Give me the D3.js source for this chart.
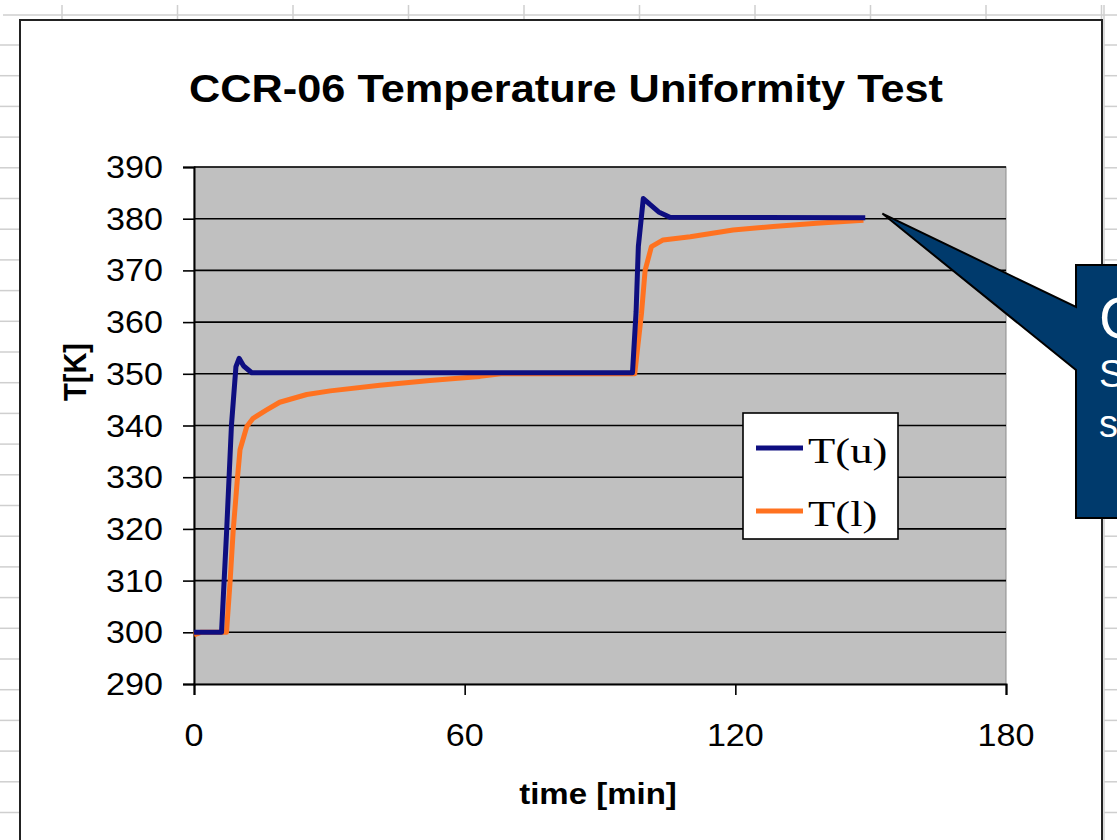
<!DOCTYPE html>
<html lang="en">
<head>
    <meta charset="UTF-8">
    <title>CCR-06 Temperature Uniformity Test</title>
    <script src="https://d3js.org/d3.v7.min.js"></script>
    <style>
      body { margin: 0; background: #fff; }
      svg { display: block; }
      .lbl { font-family: "Liberation Sans", Arial, sans-serif; fill: #000; }
    </style>
</head>
<body>
    <svg width="1117" height="840"></svg>
    <script>
        // upper thermometer T(u)
        const timeU = [0, 6.1, 7.2, 8.3, 9.3, 10.0, 11.0, 12.8, 97.2, 98.0, 98.5, 99.6, 101, 103, 105.5, 148.8];
        const tempU = [300, 300, 319, 340, 351.4, 353, 351.5, 350.2, 350.2, 362, 374.6, 383.9, 382.8, 381.3, 380.3, 380.2];
        // lower thermometer T(l)
        const timeL = [0, 1.5, 7.2, 8.0, 8.7, 9.6, 10.2, 11.7, 13.1, 16.1, 19, 25, 30.2, 41.2, 52.3, 63.4, 68, 97.7, 99.2, 100, 101.4, 104, 110, 119.5, 128.4, 138, 148.4];
        const tempL = [299.5, 300, 300, 309.8, 319.8, 329.5, 335.3, 339.8, 341.4, 343, 344.5, 346, 346.7, 347.8, 348.7, 349.5, 350, 350, 361.7, 370, 374.6, 375.9, 376.5, 377.8, 378.5, 379.1, 379.7];
        const seriesNames = ["T(u)", "T(l)"];
        const seriesColors = ["#0e0e80", "#ff7220"];
        const xTicks = [0, 60, 120, 180];
        const yTicks = [290, 300, 310, 320, 330, 340, 350, 360, 370, 380, 390];
        const calloutLines = ["C", "S", "s"];

        let svg = d3.select("svg");
        const sx = 1.1; // picture is a bit wider than tall

        // spreadsheet behind the chart object
        let sheet = svg.append("g").attr("stroke", "#cfcfcf").attr("stroke-width", 1.5);
        sheet.append("line").attr("x1", 3).attr("x2", 1117).attr("y1", 15).attr("y2", 15);
        for (let k = 0; k < 10; ++k) {
            let x = 62 + 115.5 * k;
            sheet.append("line").attr("x1", x).attr("x2", x).attr("y1", 5).attr("y2", 20);
        }
        sheet.append("line").attr("x1", 1104).attr("x2", 1104).attr("y1", 5).attr("y2", 840);
        for (let y = 45; y < 840; y += 30.7) {
            sheet.append("line").attr("x1", 0).attr("x2", 20).attr("y1", y).attr("y2", y);
            sheet.append("line").attr("x1", 1104).attr("x2", 1117).attr("y1", y).attr("y2", y);
        }

        // chart object
        svg.append("rect").attr("x", 20).attr("y", 20).attr("width", 1082).attr("height", 840)
            .attr("fill", "#fff").attr("stroke", "#222").attr("stroke-width", 2);

        let x = d3.scaleLinear().domain([0, 180]).range([194, 1006]);
        let y = d3.scaleLinear().domain([290, 390]).range([684, 167]);

        svg.append("rect").attr("x", x(0)).attr("y", y(390))
            .attr("width", x(180) - x(0)).attr("height", y(290) - y(390))
            .attr("fill", "#c0c0c0").attr("stroke", "#8c8c8c").attr("stroke-width", 1);

        // grid
        svg.append("g").selectAll("line").data(yTicks.slice(1)).enter().append("line")
            .attr("x1", x(0)).attr("x2", x(180))
            .attr("y1", d => y(d)).attr("y2", d => y(d))
            .attr("stroke", "#000").attr("stroke-width", 1.6);

        // axes
        let yAxis = svg.append("g").attr("transform", `translate(${x(0)},0)`)
            .call(d3.axisLeft(y).tickValues(yTicks).tickSize(11).tickFormat(""));
        let xAxis = svg.append("g").attr("transform", `translate(0,${y(290)})`)
            .call(d3.axisBottom(x).tickValues(xTicks).tickSize(11).tickFormat(""));
        [yAxis, xAxis].forEach(a => {
            a.select(".domain").attr("stroke", "#000").attr("stroke-width", 2);
            a.selectAll(".tick line").attr("stroke", "#000").attr("stroke-width", 1.6);
        });

        svg.append("g").selectAll("text").data(yTicks).enter().append("text")
            .attr("class", "lbl").attr("font-size", 31).attr("text-anchor", "end")
            .attr("transform", d => `translate(163,${y(d) + 11}) scale(${sx},1)`)
            .text(d => d);
        svg.append("g").selectAll("text").data(xTicks).enter().append("text")
            .attr("class", "lbl").attr("font-size", 31).attr("text-anchor", "middle")
            .attr("transform", d => `translate(${x(d)},746) scale(${sx},1)`)
            .text(d => d);

        // titles
        svg.append("text").attr("class", "lbl").attr("font-size", 38.5).attr("font-weight", "bold")
            .attr("text-anchor", "middle").attr("transform", `translate(566,102) scale(1.125,1)`)
            .text("CCR-06 Temperature Uniformity Test");
        svg.append("text").attr("class", "lbl").attr("font-size", 30).attr("font-weight", "bold")
            .attr("text-anchor", "middle").attr("transform", `translate(598,804) scale(${sx},1)`)
            .text("time [min]");
        svg.append("text").attr("class", "lbl").attr("font-size", 29).attr("font-weight", "bold")
            .attr("text-anchor", "middle").attr("transform", `translate(86,372) scale(${sx},1) rotate(-90)`)
            .text("T[K]");

        // series
        let line = d3.line().x(d => x(d[0])).y(d => y(d[1]));
        let series = [d3.zip(timeU, tempU), d3.zip(timeL, tempL)];
        // orange drawn first, blue on top
        [1, 0].forEach(i => {
            svg.append("path").datum(series[i])
                .attr("d", line).attr("fill", "none")
                .attr("stroke", seriesColors[i]).attr("stroke-width", 5)
                .attr("stroke-linejoin", "round");
        });

        // legend
        let legend = svg.append("g");
        legend.append("rect").attr("x", 743).attr("y", 413).attr("width", 155).attr("height", 126)
            .attr("fill", "#fff").attr("stroke", "#000").attr("stroke-width", 1.6);
        seriesNames.forEach((name, i) => {
            let ly = 448 + i * 63;
            legend.append("line").attr("x1", 756).attr("x2", 803).attr("y1", ly).attr("y2", ly)
                .attr("stroke", seriesColors[i]).attr("stroke-width", 5);
            legend.append("text").attr("font-family", "'Liberation Serif', 'Times New Roman', serif")
                .attr("font-size", 36).attr("transform", `translate(808,${ly + 15}) scale(1.24,1)`)
                .text(name);
        });

        // callout, cut by the right edge as in the screenshot
        let tip = [x(152.6), y(381)];
        svg.append("path")
            .attr("d", `M1076,265 L1130,265 L1130,518 L1076,518 L1076,370 L${tip[0]},${tip[1]} L1076,307 Z`)
            .attr("fill", "#003a6c").attr("stroke", "#000").attr("stroke-width", 2);
        calloutLines.forEach((t, i) => {
            svg.append("text").attr("class", "lbl").style("fill", "#fff")
                .attr("font-size", i == 0 ? 57 : 38)
                .attr("x", 1099).attr("y", [338, 387, 437][i])
                .text(t);
        });
    </script>
</body>
</html>
